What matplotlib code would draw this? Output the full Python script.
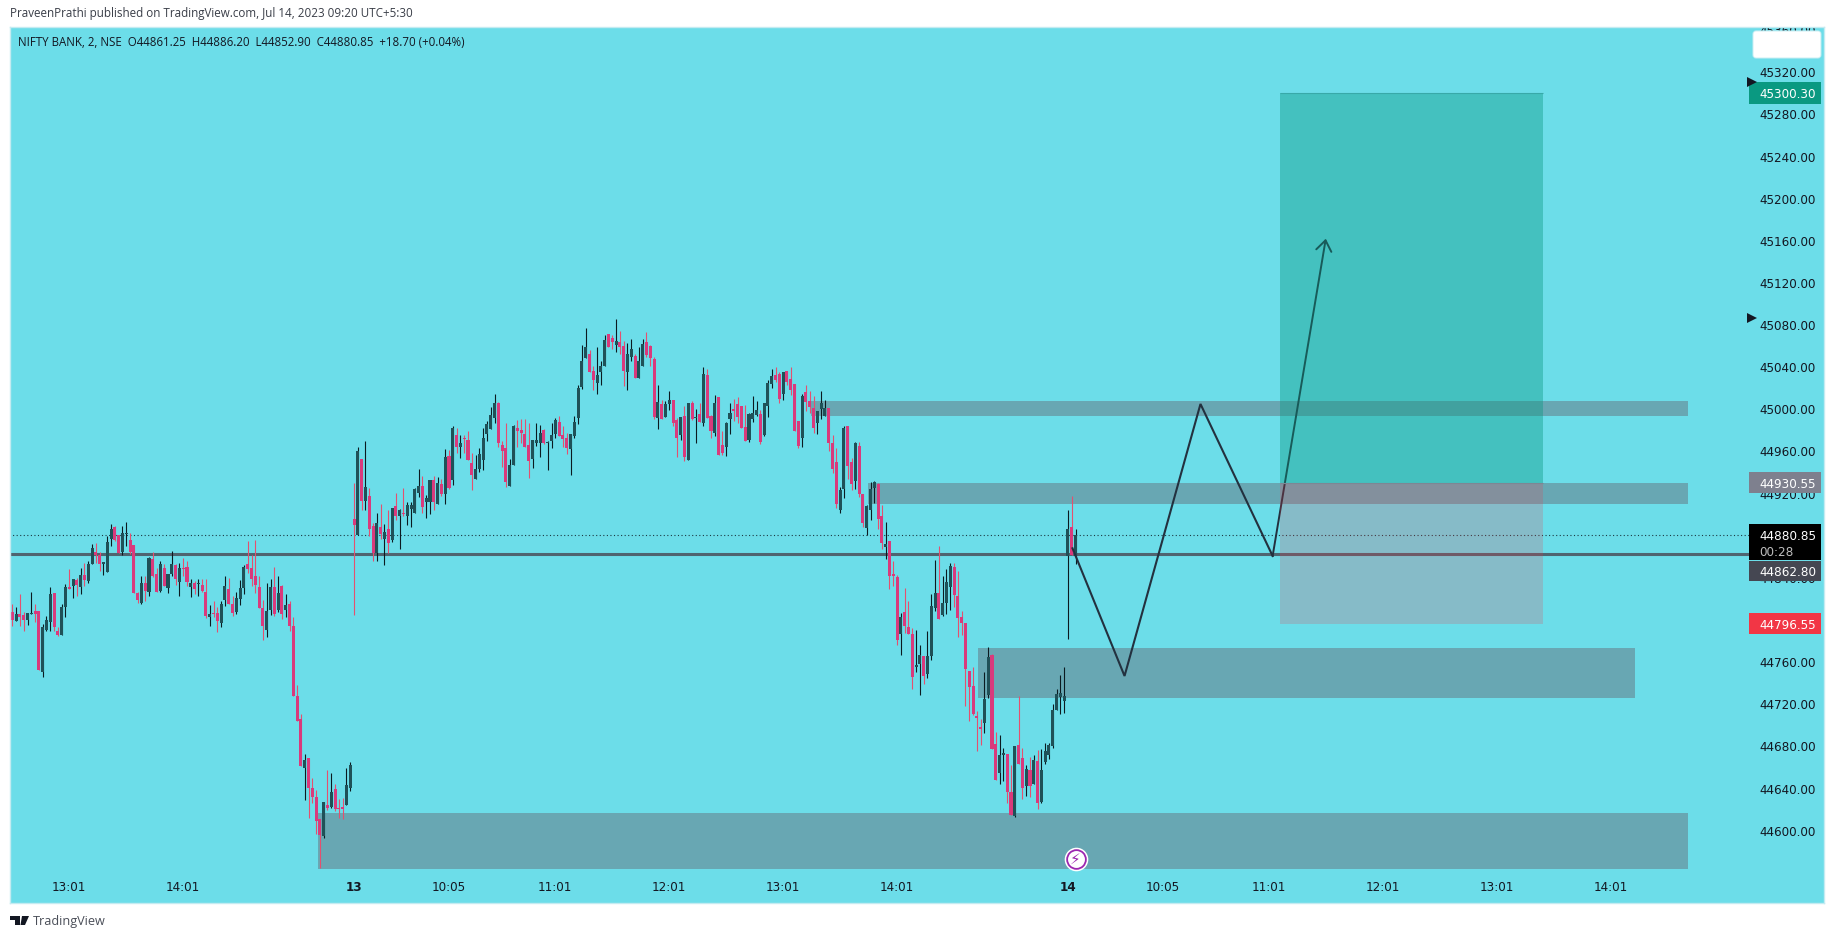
import matplotlib
matplotlib.use('Agg')
import matplotlib.pyplot as plt
from matplotlib.patches import Rectangle, FancyBboxPatch, Polygon

# candle directions, u = up (dark), d = down (pink)
directions = (
    "dudduuddUU" "uddUUdudud" "uuddUUUddu"
    "uddduduDDu" "duududduDu" "ddudduuddu"
    "uudddddUUd" "ududdddudd" "dduduDdduu"
    "duduDDuduD" "ududuuuudu" "ududuDuduD"
    "dduuuuuudd" "duuddddUUu" "duuuddduuu"
    "uuddUUuddu" "dduuduuDdd" "uduuDDuduD"
    "ududduddUU" "ddddUUUduu" "uDDuddddud"
    "dduuuDDduu" "dduddUUuDd" "udddUDDDUU"
    "duuuduuuDD" "ddddddUUdd" "uuddudduDu" "duuuuuuuudu"
).lower()

highs = [
    44815, 44812, 44825, 44808, 44807, 44827, 44815, 44809, 44796, 44804,
    44831, 44826, 44793, 44815, 44834, 44848, 44839, 44840, 44849, 44854,
    44856, 44872, 44873, 44865, 44855, 44880, 44891, 44889, 44881, 44889,
    44893, 44883, 44871, 44827, 44842, 44842, 44860, 44865, 44849, 44856,
    44853, 44844, 44866, 44853, 44854, 44859, 44856, 44839, 44837, 44839,
    44839, 44839, 44814, 44818, 44812, 44818, 44842, 44840, 44823, 44827,
    44838, 44852, 44875, 44862, 44876, 44842, 44819, 44835, 44839, 44850,
    44842, 44833, 44825, 44818, 44803, 44738, 44711, 44673, 44669, 44650,
    44639, 44611, 44627, 44658, 44655, 44644, 44630, 44631, 44660, 44665,
    44930, 44964, 44953, 44970, 44925, 44892, 44902, 44910, 44891, 44904,
    44906, 44921, 44905, 44925, 44912, 44912, 44925, 44943, 44937, 44919,
    44933, 44937, 44936, 44934, 44962, 44961, 44984, 44982, 44976, 44976,
    44979, 44959, 44957, 44963, 44982, 44989, 45002, 45015, 45007, 44970,
    44987, 44953, 44985, 44990, 44991, 44991, 44987, 44971, 44987, 44985,
    44981, 44970, 44987, 44992, 44994, 44984, 44978, 44977, 44994, 45023,
    45061, 45077, 45056, 45041, 45059, 45046, 45071, 45072, 45071, 45086,
    45074, 45065, 45063, 45067, 45053, 45059, 45067, 45073, 45061, 45050,
    45023, 45009, 45008, 45017, 45009, 44992, 44993, 45003, 45006, 45008,
    45000, 45006, 45040, 45038, 44995, 45014, 45012, 44979, 44988, 45006,
    45010, 45012, 45003, 45004, 44997, 45013, 45008, 44999, 45006, 45028,
    45038, 45040, 45035, 45035, 45036, 45040, 45024, 44989, 45015, 45023,
    45017, 45013, 44998, 45017, 45009, 45001, 44976, 44963, 44926, 44984,
    44984, 44954, 44969, 44969, 44920, 44909, 44931, 44932, 44930, 44909,
    44893, 44875, 44856, 44843, 44807, 44830, 44818, 44792, 44791, 44776,
    44766, 44790, 44825, 44857, 44870, 44842, 44848, 44854, 44854, 44847,
    44809, 44797, 44752, 44755, 44714, 44706, 44751, 44774, 44768, 44694,
    44691, 44679, 44673, 44662, 44680, 44728, 44679, 44662, 44670, 44672,
    44677, 44678, 44683, 44683, 44720, 44735, 44748, 44755, 44904, 44918, 44886,
]
body_tops = [
    44808, 44806, 44806, 44805, 44807, 44807, 44809, 44809, 44793, 44800,
    44825, 44826, 44790, 44812, 44831, 44831, 44839, 44838, 44843, 44843,
    44853, 44868, 44865, 44862, 44855, 44874, 44886, 44888, 44881, 44883,
    44883, 44876, 44871, 44826, 44835, 44835, 44859, 44858, 44844, 44853,
    44849, 44844, 44853, 44852, 44849, 44849, 44850, 44835, 44835, 44835,
    44833, 44827, 44806, 44807, 44807, 44815, 44832, 44829, 44815, 44821,
    44830, 44850, 44853, 44849, 44842, 44831, 44811, 44809, 44831, 44831,
    44826, 44832, 44814, 44815, 44794, 44728, 44706, 44667, 44669, 44641,
    44632, 44611, 44627, 44624, 44637, 44640, 44622, 44623, 44643, 44662,
    44896, 44960, 44953, 44926, 44918, 44889, 44892, 44888, 44884, 44886,
    44906, 44908, 44904, 44902, 44909, 44909, 44924, 44927, 44927, 44916,
    44933, 44933, 44930, 44929, 44955, 44956, 44982, 44976, 44968, 44973,
    44971, 44949, 44943, 44958, 44973, 44986, 44995, 45006, 45006, 44966,
    44963, 44947, 44984, 44982, 44980, 44977, 44966, 44971, 44971, 44978,
    44980, 44969, 44976, 44990, 44988, 44976, 44973, 44977, 44988, 45020,
    45046, 45059, 45053, 45036, 45033, 45041, 45066, 45072, 45068, 45065,
    45064, 45060, 45053, 45057, 45051, 45046, 45062, 45064, 45060, 45048,
    45007, 45005, 45005, 45009, 45009, 44990, 44993, 44994, 45006, 45006,
    44993, 44996, 45034, 45033, 44994, 45006, 45012, 44966, 44987, 44997,
    45000, 45005, 45003, 44983, 44996, 44997, 44999, 44996, 45006, 45025,
    45032, 45033, 45034, 45035, 45036, 45029, 45024, 44989, 45013, 45016,
    45008, 45001, 44998, 45006, 45001, 45001, 44968, 44950, 44923, 44982,
    44984, 44950, 44968, 44965, 44920, 44908, 44924, 44931, 44929, 44899,
    44872, 44875, 44844, 44841, 44803, 44808, 44793, 44787, 44757, 44767,
    44766, 44766, 44813, 44826, 44826, 44816, 44836, 44851, 44850, 44823,
    44803, 44797, 44752, 44737, 44709, 44698, 44725, 44765, 44767, 44682,
    44672, 44674, 44673, 44637, 44680, 44681, 44669, 44659, 44658, 44667,
    44666, 44658, 44676, 44681, 44715, 44730, 44731, 44728, 44886, 44888, 44881,
]
body_bottoms = [
    44800, 44799, 44803, 44800, 44800, 44806, 44806, 44753, 44751, 44791,
    44798, 44793, 44786, 44786, 44812, 44829, 44832, 44833, 44831, 44838,
    44837, 44853, 44862, 44853, 44853, 44846, 44877, 44876, 44864, 44865,
    44882, 44865, 44826, 44819, 44816, 44828, 44827, 44842, 44827, 44828,
    44832, 44830, 44844, 44839, 44836, 44848, 44836, 44831, 44829, 44834,
    44828, 44804, 44803, 44806, 44799, 44797, 44819, 44815, 44807, 44808,
    44820, 44830, 44848, 44839, 44833, 44811, 44794, 44791, 44810, 44806,
    44810, 44806, 44810, 44794, 44728, 44704, 44661, 44660, 44641, 44632,
    44609, 44596, 44595, 44622, 44623, 44621, 44621, 44621, 44624, 44641,
    44890, 44881, 44913, 44913, 44886, 44864, 44864, 44882, 44877, 44873,
    44876, 44899, 44899, 44901, 44899, 44905, 44902, 44921, 44907, 44912,
    44912, 44912, 44910, 44920, 44920, 44925, 44933, 44964, 44964, 44972,
    44952, 44938, 44934, 44943, 44952, 44977, 44981, 44992, 44968, 44960,
    44931, 44927, 44947, 44979, 44978, 44964, 44951, 44953, 44968, 44968,
    44968, 44968, 44970, 44977, 44975, 44972, 44963, 44962, 44975, 44992,
    45021, 45049, 45035, 45028, 45025, 45035, 45041, 45059, 45064, 45061,
    45059, 45036, 45035, 45050, 45030, 45030, 45041, 45052, 45049, 44993,
    44992, 44991, 44993, 45005, 44987, 44973, 44976, 44955, 44952, 44991,
    44992, 44988, 44987, 44992, 44979, 44978, 44957, 44959, 44964, 44991,
    44998, 44993, 44982, 44970, 44971, 44991, 44995, 44969, 44976, 45003,
    45024, 45028, 45010, 45015, 45026, 45018, 44979, 44965, 44973, 45007,
    45002, 44982, 44987, 45000, 44994, 44968, 44943, 44910, 44904, 44924,
    44946, 44929, 44932, 44920, 44892, 44887, 44904, 44925, 44896, 44873,
    44869, 44842, 44842, 44781, 44787, 44794, 44787, 44746, 44755, 44758,
    44747, 44749, 44766, 44811, 44801, 44805, 44816, 44831, 44824, 44802,
    44797, 44754, 44736, 44711, 44707, 44697, 44702, 44729, 44678, 44648,
    44655, 44672, 44637, 44615, 44614, 44663, 44641, 44642, 44642, 44644,
    44626, 44627, 44665, 44672, 44680, 44715, 44727, 44723, 44861, 44862, 44861,
]
lows = [
    44794, 44799, 44794, 44790, 44795, 44806, 44798, 44753, 44746, 44790,
    44790, 44790, 44785, 44786, 44803, 44829, 44821, 44823, 44825, 44832,
    44835, 44853, 44854, 44847, 44843, 44846, 44870, 44875, 44864, 44862,
    44870, 44863, 44826, 44816, 44815, 44818, 44823, 44841, 44827, 44827,
    44832, 44826, 44842, 44833, 44823, 44842, 44832, 44822, 44825, 44823,
    44827, 44802, 44794, 44803, 44789, 44793, 44813, 44815, 44804, 44806,
    44814, 44825, 44845, 44832, 44826, 44811, 44781, 44784, 44805, 44804,
    44808, 44801, 44803, 44790, 44728, 44704, 44661, 44629, 44612, 44626,
    44597, 44565, 44593, 44620, 44622, 44619, 44612, 44611, 44624, 44638,
    44805, 44881, 44904, 44904, 44880, 44856, 44856, 44877, 44852, 44864,
    44874, 44895, 44867, 44899, 44890, 44888, 44902, 44917, 44902, 44897,
    44901, 44904, 44910, 44918, 44910, 44924, 44928, 44959, 44954, 44959,
    44952, 44923, 44934, 44941, 44942, 44970, 44981, 44987, 44964, 44945,
    44926, 44927, 44947, 44964, 44968, 44964, 44935, 44944, 44965, 44955,
    44967, 44942, 44963, 44973, 44975, 44964, 44958, 44938, 44973, 44986,
    45019, 45049, 45035, 45018, 45015, 45023, 45041, 45059, 45057, 45054,
    45053, 45022, 45018, 45046, 45030, 45030, 45041, 45050, 45041, 44991,
    44981, 44991, 44993, 44999, 44984, 44955, 44971, 44951, 44952, 44990,
    44968, 44988, 44984, 44992, 44973, 44975, 44957, 44957, 44956, 44977,
    44989, 44987, 44982, 44970, 44969, 44988, 44994, 44967, 44975, 44993,
    45020, 45026, 45006, 45009, 45023, 45014, 44979, 44963, 44964, 44998,
    44997, 44978, 44977, 44991, 44994, 44960, 44940, 44906, 44902, 44916,
    44934, 44923, 44924, 44917, 44888, 44881, 44895, 44911, 44886, 44867,
    44858, 44829, 44832, 44776, 44767, 44788, 44787, 44735, 44751, 44729,
    44739, 44745, 44762, 44809, 44801, 44804, 44806, 44810, 44812, 44784,
    44786, 44718, 44704, 44710, 44676, 44681, 44693, 44726, 44678, 44648,
    44644, 44647, 44626, 44615, 44613, 44663, 44630, 44633, 44632, 44644,
    44621, 44626, 44663, 44668, 44679, 44715, 44711, 44712, 44782, 44862, 44853,
]

# time axis labels, position = bar number
time_ticks = [15, 45, 90, 115, 143, 173, 203, 233, 278, 303, 331, 361, 391, 421]
time_labels = ['13:01', '14:01', '13', '10:05', '11:01', '12:01', '13:01', '14:01',
               '14', '10:05', '11:01', '12:01', '13:01', '14:01']
price_ticks = list(range(44600, 45361, 40))

# drawn zones: first bar, last bar, upper price, lower price
zone_starts = [210.3, 225.3, 254.3, 80.6]
zone_ends = [441.3, 441.3, 427.3, 441.3]
zone_uppers = [45007.9, 44930.55, 44773.5, 44616.9]
zone_lowers = [44993.7, 44910.2, 44726.0, 44563.7]

# long position tool
position_start, position_end = 333.9, 403.1
target_price, entry_price, stop_price = 45300.30, 44930.55, 44796.55

# hand drawn path
path_bars = [279.2, 292.9, 312.9, 331.9, 345.9]
path_prices = [44868.1, 44746.9, 45005.1, 44860.8, 45162.0]

last_price, session_price = 44880.85, 44862.80

# price tags: centre price, height, colour, text, text colour
tag_centers = [45300.30, 44930.55, 44874.1, 44846.9, 44796.55]
tag_heights = [20, 20, 35, 19, 20]
tag_colors = ['#0A9981', '#7E808E', '#000000', '#454752', '#F23645']
tag_texts = ['45300.30', '44930.55', '44880.85', '44862.80', '44796.55']

BG = '#6CDDE9'
PINK = '#D93A7C'
PINK_WICK = '#E4506F'
DARK = '#1F5158'
DARK_WICK = '#0B1A20'


def fx(px):
    return px / 1835


def fy(px):
    return 1 - px / 939


def draw_candles(ax):
    bars = range(len(highs))
    wick_colors = [PINK_WICK if d == 'd' else DARK_WICK for d in directions]
    body_colors = [PINK if d == 'd' else DARK for d in directions]
    heights = [t - b for t, b in zip(body_tops, body_bottoms)]
    ax.vlines(bars, lows, highs, colors=wick_colors, linewidth=0.8, zorder=2)
    ax.bar(bars, heights, bottom=body_bottoms, width=0.8, color=body_colors,
           linewidth=0, zorder=2.1)


def draw_drawings(ax):
    for start, end, upper, lower in zip(zone_starts, zone_ends, zone_uppers, zone_lowers):
        ax.add_patch(Rectangle((start, lower), end - start, upper - lower,
                               facecolor='#645664', alpha=0.4, linewidth=0, zorder=1))

    # last price and session level
    ax.hlines(session_price, -1, 457.4, color='#4F6470', linewidth=2.2, zorder=1.5)
    ax.hlines(last_price, -1, 457.4, color='#1B3A44', linewidth=0.8,
              linestyle=(0, (1, 2.2)), zorder=1.5)

    # path + arrow
    ax.plot(path_bars[:4], path_prices[:4], color='#23313F', linewidth=1.5,
            solid_joinstyle='miter', zorder=2.5)
    ax.annotate('', xy=(path_bars[4], path_prices[4]), xytext=(path_bars[3], path_prices[3]),
                arrowprops=dict(arrowstyle='->,head_length=0.75,head_width=0.55', mutation_scale=10,
                                color='#23313F', linewidth=1.4, shrinkA=0, shrinkB=0),
                zorder=2.5)

    # position tool sits on top of everything else
    width = position_end - position_start
    ax.add_patch(Rectangle((position_start, entry_price), width, target_price - entry_price,
                           facecolor='#089981', alpha=0.4, linewidth=0, zorder=3))
    ax.add_patch(Rectangle((position_start, stop_price), width, entry_price - stop_price,
                           facecolor='#F23645', alpha=0.2, linewidth=0, zorder=3))
    ax.hlines(target_price, position_start, position_end, color='#38A9A9', linewidth=0.8, zorder=3.1)
    ax.hlines(entry_price, position_start, position_end, color='#7C8794', linewidth=0.8, zorder=3.1)


def draw_price_tags(ax):
    ax.add_patch(FancyBboxPatch((458.4, 45333.5), 17.9, 25.7,
                                boxstyle='round,pad=0,rounding_size=0.8', mutation_aspect=3.6,
                                facecolor='white', edgecolor='#C8EEF3', linewidth=0.7, zorder=6))
    for center, height, color, text in zip(tag_centers, tag_heights, tag_colors, tag_texts):
        ax.add_patch(Rectangle((457.4, center - height / 2), 19, height, facecolor=color,
                               linewidth=0, zorder=6))
        label_y = center + 6.7 if color == '#000000' else center
        ax.text(460, label_y, text, color='white', fontsize=8.64, va='center_baseline', zorder=7)
    ax.text(460, 44865.5, '00:28', color='#BDBDBD', fontsize=8.64, va='center_baseline', zorder=7)
    ax.plot([458.2, 458.2], [45310.7, 45086.7], linestyle='none', marker='>', markersize=6.5,
            color='#131722', markeredgewidth=0, zorder=7)


def main():
    fig = plt.figure(figsize=(18.35, 9.39), dpi=100, facecolor='white')
    ax = fig.add_axes([fx(10), 1 - 903 / 939, 1814 / 1835, 876 / 939], facecolor=BG)
    ax.set_xlim(-0.61, 477.1)
    ax.set_ylim(44531.4, 45362.95)

    draw_candles(ax)
    draw_drawings(ax)
    draw_price_tags(ax)

    # lightning marker
    ax.plot(280, 44573.2, marker='o', markersize=17, color='white', markeredgewidth=0, zorder=8)
    ax.plot(280, 44573.2, marker='o', markersize=13.5, markerfacecolor='white',
            markeredgecolor='#9C27B0', markeredgewidth=1.3, zorder=9)
    ax.text(280, 44573.2, '\u26a1', color='#9C27B0', fontsize=11, ha='center', va='center', zorder=10)

    ax.set_xticks(time_ticks)
    ax.set_xticklabels(time_labels)
    ax.tick_params(axis='x', length=0, pad=-16, labelsize=8.64, labelcolor='#131722')
    for label in ax.get_xticklabels():
        if len(label.get_text()) == 2:
            label.set_fontweight('bold')

    ax.yaxis.tick_right()
    ax.set_yticks(price_ticks)
    ax.set_yticklabels([f'{p:.2f}' for p in price_ticks])
    ax.tick_params(axis='y', length=0, pad=-46.8, labelsize=8.64, labelcolor='#131722')
    for label in ax.get_yticklabels():
        label.set_clip_on(True)
        label.set_clip_box(ax.bbox)

    for spine in ax.spines.values():
        spine.set_color('#C4EBF1')
        spine.set_linewidth(1)

    fig.text(fx(10), fy(14), 'PraveenPrathi published on TradingView.com, Jul 14, 2023 09:20 UTC+5:30',
             family='Open Sans', fontsize=8.4, color='#3A3E48', va='center')
    fig.text(fx(18), fy(43), 'NIFTY BANK, 2, NSE  O44861.25  H44886.20  L44852.90  C44880.85  +18.70 (+0.04%)',
             family='Open Sans', fontsize=8.3, color='#131722', va='center')
    fig.text(fx(33), fy(921), 'TradingView', family='Open Sans', fontsize=9.1, color='#4A4E58', va='center')

    # logo
    logo = [[(10, 916), (20, 916), (20, 925), (15, 925), (15, 920), (10, 920)],
            [(22, 916), (29, 916), (25, 925), (20.5, 925)]]
    for shape in logo:
        fig.add_artist(Polygon([(fx(x), fy(y)) for x, y in shape], closed=True,
                               transform=fig.transFigure, facecolor='#131722', linewidth=0))

    fig.savefig('out.png', dpi=100)
    plt.close(fig)


if __name__ == '__main__':
    main()
